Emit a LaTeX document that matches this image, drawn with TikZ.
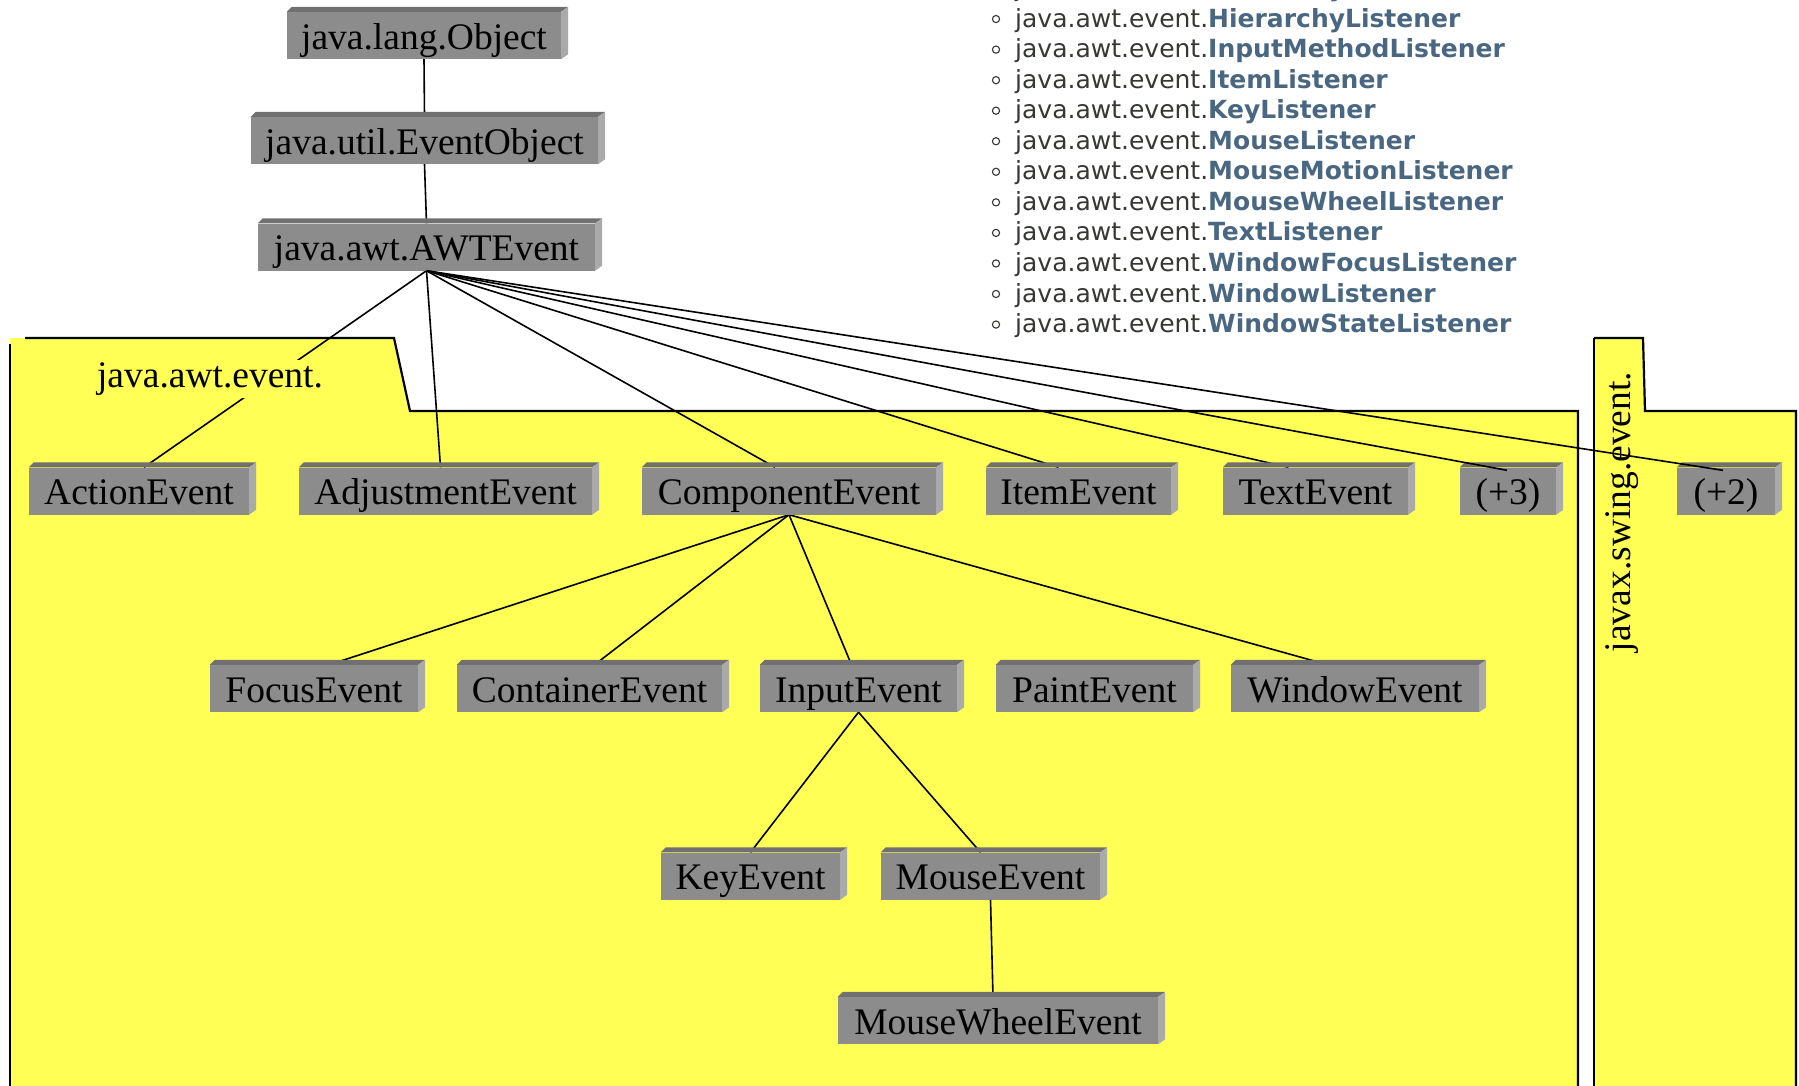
\documentclass[tikz,border=0pt]{standalone}
\usepackage{fontspec}
\setmainfont{Liberation Serif}
\newfontfamily\lstfont{DejaVu Sans}
\usetikzlibrary{calc}
\definecolor{folderyellow}{RGB}{255,255,85}
\definecolor{facegray}{RGB}{140,140,140}
\definecolor{topgray}{RGB}{112,112,112}
\definecolor{sidegray}{RGB}{170,170,170}
\definecolor{lsttext}{HTML}{353833}
\definecolor{lstlink}{HTML}{4A6782}
\pgfdeclarelayer{folders}
\pgfdeclarelayer{edges}
\pgfsetlayers{folders,edges,main}
\begin{document}
\begin{tikzpicture}[x=1pt,y=-1pt,
  cls/.style={fill=facegray, inner sep=0pt, minimum height=47pt,
    font=\fontsize{37.5}{40}\selectfont, text height=27pt, text depth=0pt},
  pkglabel/.style={font=\fontsize{37.5}{40}\selectfont},
  edge/.style={line width=1.6pt, black},
  fold/.style={line width=2.2pt, black},
  lst/.style={font=\lstfont\fontsize{25}{30}\selectfont, inner sep=0pt},
  bevtop/.style={fill=topgray},
  bevside/.style={fill=sidegray}]
\useasboundingbox (0,0) rectangle (1799,1085);

% folders
\begin{pgfonlayer}{folders}
\fill[folderyellow] (10,338) -- (394,338) -- (410,411) -- (1578,411) -- (1578,1090) -- (10,1090) -- cycle;
\draw[fold] (25,338) -- (394,338) -- (410,411) -- (1578,411) -- (1578,1090);
\draw[fold] (10,344) -- (10,1090);
\fill[folderyellow] (1594,338) -- (1643,338) -- (1645,411) -- (1796,411) -- (1796,1090) -- (1594,1090) -- cycle;
\draw[fold] (1594,338) -- (1643,338) -- (1645,411) -- (1796,411) -- (1796,1090);
\draw[fold] (1594,338) -- (1594,1090);
\end{pgfonlayer}

% class nodes
\node[cls, minimum width=274pt] (obj) at (424,35.5) {java.lang.Object};
\node[cls, minimum width=347pt] (evo) at (424.5,140.5) {java.util.EventObject};
\node[cls, minimum width=337pt] (awt) at (426.5,247) {java.awt.AWTEvent};
\node[cls, minimum width=220pt] (action) at (139,491) {ActionEvent};
\node[cls, minimum width=293pt] (adjust) at (445.5,491) {AdjustmentEvent};
\node[cls, minimum width=294pt] (comp) at (789,491) {ComponentEvent};
\node[cls, minimum width=185pt] (item) at (1078.5,491) {ItemEvent};
\node[cls, minimum width=185pt] (textev) at (1315.5,491) {TextEvent};
\node[cls, minimum width=96pt] (plus3) at (1508,491) {(+3)};
\node[cls, minimum width=98pt] (plus2) at (1726,491) {(+2)};
\node[cls, minimum width=208pt] (focus) at (314,688.5) {FocusEvent};
\node[cls, minimum width=265pt] (container) at (589.5,688.5) {ContainerEvent};
\node[cls, minimum width=197pt] (input) at (858.5,688.5) {InputEvent};
\node[cls, minimum width=197pt] (paint) at (1094.5,688.5) {PaintEvent};
\node[cls, minimum width=248pt] (window) at (1355,688.5) {WindowEvent};
\node[cls, minimum width=179pt] (key) at (750.5,876) {KeyEvent};
\node[cls, minimum width=219pt] (mouse) at (990.5,876) {MouseEvent};
\node[cls, minimum width=320pt] (wheel) at (998,1020.5) {MouseWheelEvent};

% bevels
\foreach \n in {obj,evo,awt,action,adjust,comp,item,textev,plus3,plus2,focus,container,input,paint,window,key,mouse,wheel}{
  \fill[bevtop] (\n.north west) -- ([shift={(5,-5)}]\n.north west) -- ([shift={(7,-5)}]\n.north east) -- (\n.north east) -- cycle;
  \fill[bevside] (\n.north east) -- ([shift={(7,-5)}]\n.north east) -- ([shift={(7,-5)}]\n.south east) -- (\n.south east) -- cycle;
}

% package labels
\node[pkglabel, fill=folderyellow, inner sep=3pt] (pkgawt) at (210,379) {java.awt.event.};
\node[pkglabel, rotate=90, inner sep=0pt] (pkgswing) at (1622,512) {javax.swing.event.};

% connectors
\begin{pgfonlayer}{edges}
\draw[edge] (obj.south) -- (evo.north);
\draw[edge] (evo.south) -- (awt.north);
\draw[edge] (awt.south) -- ([xshift=5pt]action.north);
\draw[edge] (awt.south) -- ([xshift=-5pt]adjust.north);
\draw[edge] (awt.south) -- ([xshift=-14pt]comp.north);
\draw[edge] (awt.south) -- ([xshift=-20pt]item.north);
\draw[edge] (awt.south) -- ([xshift=-27pt]textev.north);
\draw[edge] (comp.south) -- ([xshift=15pt]focus.north);
\draw[edge] (comp.south) -- ([xshift=5pt]container.north);
\draw[edge] (comp.south) -- ([xshift=-7pt]input.north);
\draw[edge] (comp.south) -- ([xshift=-27pt]window.north);
\draw[edge] (input.south) -- (key.north);
\draw[edge] (input.south) -- ([xshift=-10pt]mouse.north);
\draw[edge] (mouse.south) -- ([xshift=-5pt]wheel.north);
\end{pgfonlayer}
\draw[edge] (awt.south) -- ([xshift=-1pt,yshift=-3pt]plus3.north);
\draw[edge] (awt.south) -- ([xshift=-3pt,yshift=-3pt]plus2.north);

% listener list
\foreach \i/\nm in {0/HierarchyBoundsListener,1/HierarchyListener,2/InputMethodListener,3/ItemListener,4/KeyListener,5/MouseListener,6/MouseMotionListener,7/MouseWheelListener,8/TextListener,9/WindowFocusListener,10/WindowListener,11/WindowStateListener}{
  \pgfmathsetmacro{\yb}{-3.5+30.55*\i}
  \node[lst, anchor=base west] (l\i) at (1015,\yb) {\textcolor{lsttext}{java.awt.event.}\textcolor{lstlink}{\bfseries \nm}};
  \draw[lsttext, line width=1.1pt] (996,\yb-8) circle[radius=3.6pt];
}
\end{tikzpicture}
\end{document}
